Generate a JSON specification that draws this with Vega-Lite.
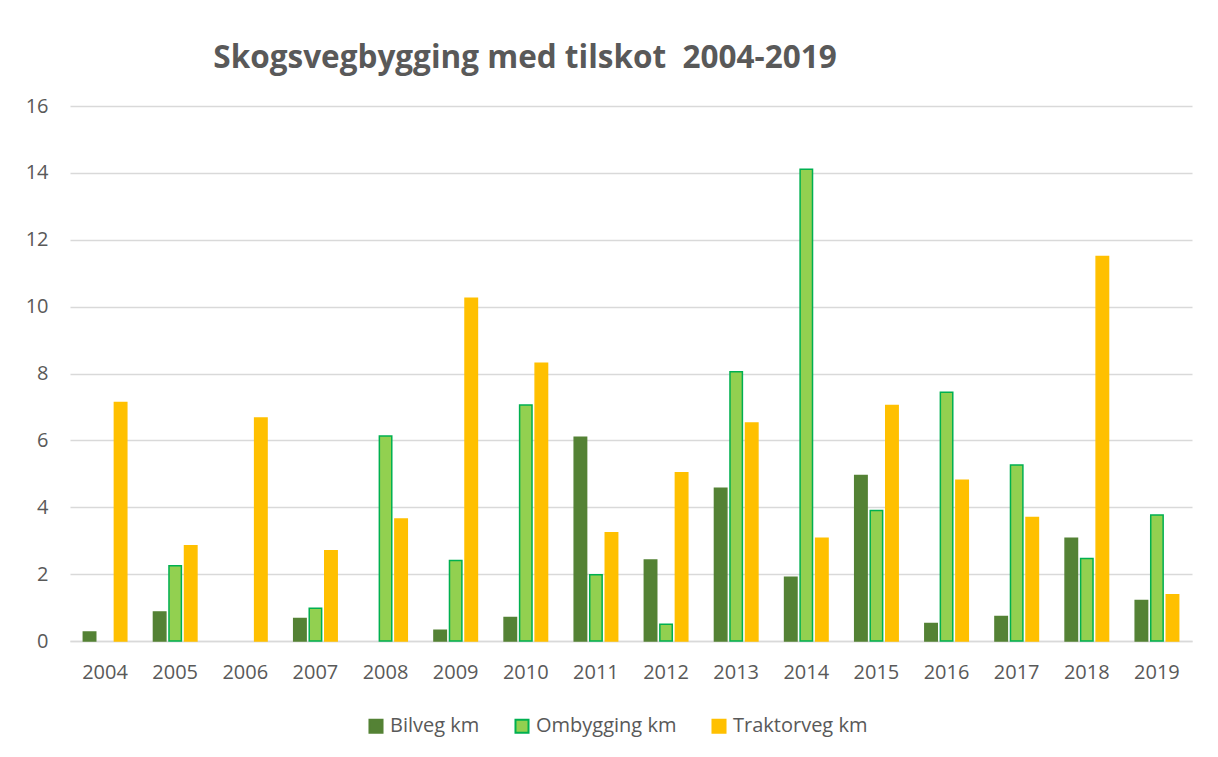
{
  "$schema": "https://vega.github.io/schema/vega-lite/v6.json",
  "width": 1122,
  "height": 535,
  "autosize": {"type": "none"},
  "padding": {"left": 70, "top": 106, "right": 26, "bottom": 116},
  "background": "white",
  "config": {"view": {"stroke": null}, "font": "Open Sans"},
  "title": {
    "text": "Skogsvegbygging med tilskot\u00a0 2004-2019",
    "fontSize": 31.5,
    "font": "Open Sans",
    "fontWeight": "bold",
    "color": "#595959",
    "anchor": "middle",
    "dx": -106,
    "offset": 22
  },
  "data": {
    "values": [
      {"year": "2004", "type": "Bilveg km", "km": 0.27},
      {"year": "2004", "type": "Traktorveg km", "km": 7.13},
      {"year": "2005", "type": "Bilveg km", "km": 0.87},
      {"year": "2005", "type": "Ombygging km", "km": 2.25},
      {"year": "2005", "type": "Traktorveg km", "km": 2.85},
      {"year": "2006", "type": "Traktorveg km", "km": 6.67},
      {"year": "2007", "type": "Bilveg km", "km": 0.67},
      {"year": "2007", "type": "Ombygging km", "km": 0.98},
      {"year": "2007", "type": "Traktorveg km", "km": 2.7},
      {"year": "2008", "type": "Ombygging km", "km": 6.13},
      {"year": "2008", "type": "Traktorveg km", "km": 3.65},
      {"year": "2009", "type": "Bilveg km", "km": 0.32},
      {"year": "2009", "type": "Ombygging km", "km": 2.41},
      {"year": "2009", "type": "Traktorveg km", "km": 10.25},
      {"year": "2010", "type": "Bilveg km", "km": 0.7},
      {"year": "2010", "type": "Ombygging km", "km": 7.06},
      {"year": "2010", "type": "Traktorveg km", "km": 8.31},
      {"year": "2011", "type": "Bilveg km", "km": 6.09},
      {"year": "2011", "type": "Ombygging km", "km": 1.98},
      {"year": "2011", "type": "Traktorveg km", "km": 3.24},
      {"year": "2012", "type": "Bilveg km", "km": 2.42},
      {"year": "2012", "type": "Ombygging km", "km": 0.5},
      {"year": "2012", "type": "Traktorveg km", "km": 5.03},
      {"year": "2013", "type": "Bilveg km", "km": 4.57},
      {"year": "2013", "type": "Ombygging km", "km": 8.05},
      {"year": "2013", "type": "Traktorveg km", "km": 6.52},
      {"year": "2014", "type": "Bilveg km", "km": 1.91},
      {"year": "2014", "type": "Ombygging km", "km": 14.11},
      {"year": "2014", "type": "Traktorveg km", "km": 3.07},
      {"year": "2015", "type": "Bilveg km", "km": 4.95},
      {"year": "2015", "type": "Ombygging km", "km": 3.9},
      {"year": "2015", "type": "Traktorveg km", "km": 7.04},
      {"year": "2016", "type": "Bilveg km", "km": 0.52},
      {"year": "2016", "type": "Ombygging km", "km": 7.44},
      {"year": "2016", "type": "Traktorveg km", "km": 4.81},
      {"year": "2017", "type": "Bilveg km", "km": 0.73},
      {"year": "2017", "type": "Ombygging km", "km": 5.26},
      {"year": "2017", "type": "Traktorveg km", "km": 3.69},
      {"year": "2018", "type": "Bilveg km", "km": 3.07},
      {"year": "2018", "type": "Ombygging km", "km": 2.47},
      {"year": "2018", "type": "Traktorveg km", "km": 11.5},
      {"year": "2019", "type": "Bilveg km", "km": 1.21},
      {"year": "2019", "type": "Ombygging km", "km": 3.77},
      {"year": "2019", "type": "Traktorveg km", "km": 1.38}
    ]
  },
  "mark": {"type": "bar", "strokeWidth": 1.5},
  "encoding": {
    "x": {
      "field": "year",
      "type": "nominal",
      "scale": {"paddingInner": 0.38, "paddingOuter": 0.19},
      "axis": {
        "title": null,
        "labelAngle": 0,
        "labelFontSize": 20,
        "labelColor": "#595959",
        "labelFont": "Open Sans",
        "ticks": false,
        "domainColor": "#d9d9d9",
        "domainWidth": 1.5,
        "labelPadding": 21
      }
    },
    "xOffset": {
      "field": "type",
      "type": "nominal",
      "scale": {"paddingInner": 0.2, "paddingOuter": 0}
    },
    "y": {
      "field": "km",
      "type": "quantitative",
      "scale": {"domain": [0, 16], "nice": false},
      "axis": {
        "title": null,
        "values": [0, 2, 4, 6, 8, 10, 12, 14, 16],
        "domain": false,
        "ticks": false,
        "gridColor": "#d9d9d9",
        "gridWidth": 1.5,
        "labelFontSize": 20,
        "labelColor": "#595959",
        "labelFont": "Open Sans",
        "labelPadding": 22
      }
    },
    "color": {
      "field": "type",
      "type": "nominal",
      "title": null,
      "scale": {
        "domain": ["Bilveg km", "Ombygging km", "Traktorveg km"],
        "range": ["#548235", "#92D050", "#FFC000"]
      },
      "legend": {
        "orient": "none",
        "legendX": 296,
        "legendY": 610,
        "direction": "horizontal",
        "symbolType": "square",
        "symbolSize": 170,
        "symbolStrokeWidth": 2,
        "labelFontSize": 20,
        "labelColor": "#595959",
        "labelFont": "Open Sans",
        "labelOffset": 4,
        "columnPadding": 31
      }
    },
    "stroke": {
      "field": "type",
      "type": "nominal",
      "title": null,
      "scale": {
        "domain": ["Bilveg km", "Ombygging km", "Traktorveg km"],
        "range": ["#548235", "#00B050", "#FFC000"]
      },
      "legend": {
        "orient": "none",
        "legendX": 296,
        "legendY": 610,
        "direction": "horizontal",
        "symbolType": "square",
        "symbolSize": 170,
        "symbolStrokeWidth": 2,
        "labelFontSize": 20,
        "labelColor": "#595959",
        "labelFont": "Open Sans",
        "labelOffset": 4,
        "columnPadding": 31
      }
    }
  }
}
